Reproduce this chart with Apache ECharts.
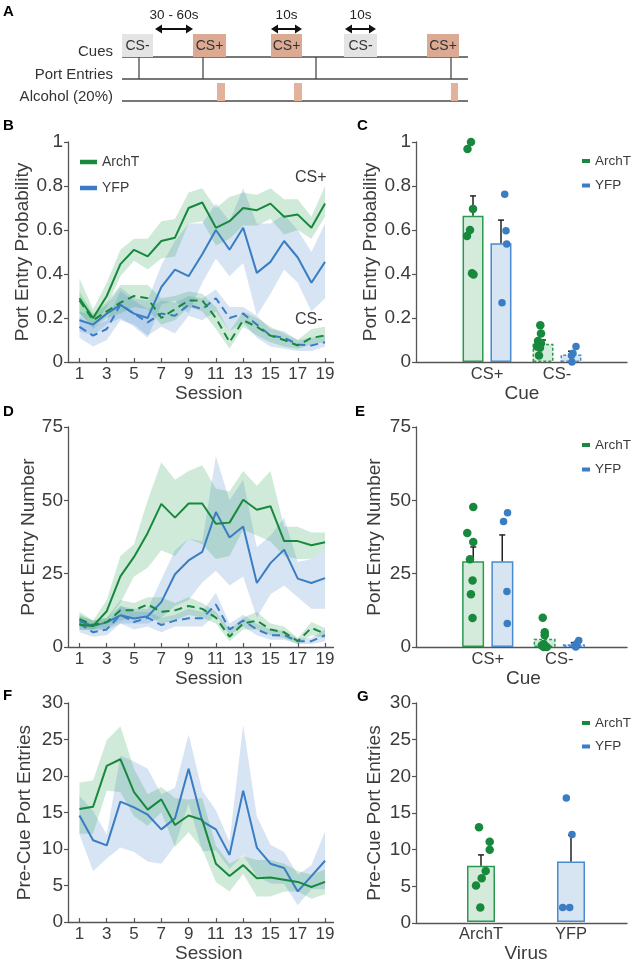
<!DOCTYPE html>
<html><head><meta charset="utf-8">
<script src="https://cdn.jsdelivr.net/npm/echarts@6/dist/echarts.min.js"></script>
<style>html,body{margin:0;padding:0;background:#fff;}#c{width:635px;height:964px;}</style>
</head><body><div id="c"></div>
<script>
// ---------------- DATA ----------------
// Panel A: trial schematic (timeline units)
const cueTypes = ['CS-','CS+','CS+','CS-','CS+'];
const cueOnsets = [0,71,149,222,305];
const cueOffsets = [31,104,180,255,337];
const portEntryTimes = [17,81,194,329];
const alcoholOnsets = [95,172,329];
const alcoholOffsets = [103,180,336];
const intervalLabels = ['30 - 60s','10s','10s'];
const intervalStarts = [33,149,223];
const intervalEnds = [71,180,254];
const timelineEnd = 346;
const rowLabels = ['Cues','Port Entries','Alcohol (20%)'];

// Sessions
const sessions = [1,2,3,4,5,6,7,8,9,10,11,12,13,14,15,16,17,18,19];
const sessionTicks = [1,3,5,7,9,11,13,15,17,19];

// Panel B: port entry probability
const probArchTCSp   = [0.29,0.20,0.30,0.445,0.51,0.48,0.55,0.565,0.70,0.725,0.61,0.64,0.70,0.69,0.72,0.66,0.67,0.61,0.72];
const probArchTCSpHi = [0.38,0.24,0.36,0.51,0.56,0.56,0.64,0.65,0.77,0.79,0.70,0.75,0.77,0.76,0.79,0.74,0.74,0.66,0.80];
const probArchTCSpLo = [0.22,0.16,0.25,0.39,0.46,0.42,0.47,0.48,0.63,0.64,0.53,0.56,0.62,0.62,0.65,0.58,0.60,0.56,0.66];
const probYFPCSp     = [0.19,0.17,0.22,0.26,0.22,0.20,0.34,0.42,0.39,0.49,0.60,0.51,0.61,0.405,0.455,0.55,0.475,0.36,0.455];
const probYFPCSpHi   = [0.23,0.21,0.26,0.34,0.29,0.28,0.44,0.55,0.63,0.63,0.72,0.64,0.79,0.63,0.63,0.67,0.60,0.50,0.63];
const probYFPCSpLo   = [0.14,0.12,0.17,0.20,0.16,0.11,0.26,0.28,0.22,0.36,0.47,0.39,0.45,0.21,0.31,0.42,0.36,0.23,0.29];
const probArchTCSm   = [0.28,0.19,0.23,0.27,0.30,0.29,0.20,0.24,0.28,0.28,0.20,0.09,0.19,0.16,0.12,0.10,0.075,0.11,0.12];
const probArchTCSmHi = [0.32,0.22,0.27,0.35,0.35,0.35,0.29,0.30,0.32,0.31,0.25,0.14,0.23,0.20,0.16,0.13,0.10,0.15,0.16];
const probArchTCSmLo = [0.22,0.15,0.20,0.22,0.25,0.24,0.17,0.19,0.25,0.23,0.15,0.06,0.16,0.12,0.09,0.07,0.06,0.08,0.09];
const probYFPCSm     = [0.16,0.12,0.15,0.26,0.22,0.18,0.22,0.21,0.26,0.24,0.29,0.20,0.22,0.17,0.12,0.11,0.08,0.075,0.09];
const probYFPCSmHi   = [0.21,0.16,0.19,0.32,0.28,0.24,0.28,0.27,0.30,0.29,0.33,0.25,0.25,0.21,0.15,0.14,0.10,0.11,0.12];
const probYFPCSmLo   = [0.11,0.07,0.10,0.19,0.17,0.12,0.16,0.13,0.21,0.19,0.23,0.14,0.18,0.11,0.07,0.06,0.05,0.05,0.07];

// Panel D: port entry number
const numArchTCSp   = [7.6,7.2,12.2,24.1,30.7,38.9,48.8,44.1,48.9,48.9,42.0,42.4,50.2,46.8,48.0,36.1,36.1,34.7,35.7];
const numArchTCSpHi = [10.5,9,16,31,35,50,63,57,60,62,54,53,60,55,60,41,41,39,39];
const numArchTCSpLo = [5.8,6,9,15,24,27,33,31,37,35,30,31,40,38,36,31,30,30,33];
const numYFPCSp     = [8.8,7.2,8.4,10.8,9.7,10.5,15.3,24.8,29.5,32.4,46.0,37.3,41.1,21.8,28.6,33.2,23.3,21.8,23.5];
const numYFPCSpHi   = [11,9,10,14,13,13,23,33,37,36,65,50,57,34,38,44,29,30,33];
const numYFPCSpLo   = [6,5.5,6,8,8,8,10,14,16,22,26,21,24,10,18,21,17,13,13];
const numArchTCSm   = [9.5,7.5,8.5,12.5,12.5,14.5,12,12.5,14,13,10,3.5,8,9,6,5,2,6.5,4.5];
const numArchTCSmHi = [12,9,10,16,15,17,17,15,17,15,12,6,10,12,8,7,3,8.5,6.5];
const numArchTCSmLo = [7,6,6.5,9,10,11,8,9,11,10,8,2,6,6,4,3,1,4,3];
const numYFPCSm     = [8,5,6,11,8.5,10,7.5,9,9.8,9.8,14.5,6,9,6,4,4,2,2,4];
const numYFPCSmHi   = [10,7,8,14,12,12,10,11,13,12,18.5,8,11,8,6,5.5,3,3,6];
const numYFPCSmLo   = [5,3.5,4,8,6,7,5,7,7,7,11,4,7,4,2.5,2.5,1,1,2];

// Panel F: pre-cue port entries
const preArchT   = [15.5,15.8,21.4,22.3,17.8,15.4,16.8,13.3,14.6,14.0,8.0,6.3,7.8,6.0,6.1,5.8,5.5,4.8,5.5];
const preArchTHi = [19.1,19.4,24.9,26.8,21.0,17.5,18.5,17.0,16.8,17.0,10.5,8.0,9.0,8.5,8.5,8.0,7.0,6.5,7.2];
const preArchTLo = [12.1,12.1,18.0,17.8,14.5,13.2,15.0,10.3,12.3,10.0,5.5,4.2,6.6,3.5,3.5,4.2,4.2,3.2,3.8];
const preYFP     = [14.6,11.2,10.5,16.5,15.7,14.7,12.7,14.2,21.0,13.8,12.7,9.2,18.0,10.2,8.0,7.4,4.2,6.3,8.4];
const preYFPHi   = [17.3,15.2,12.0,22.8,22.0,21.0,17.5,18.4,25.7,18.0,15.3,11.0,27.0,14.5,10.6,9.6,6.5,7.8,12.4];
const preYFPLo   = [12.0,7.0,8.7,10.2,9.6,8.3,8.0,10.5,16.2,9.7,9.8,7.3,9.2,6.3,5.3,5.2,2.3,4.5,4.5];

// Panel C: probability by cue
const cueCats = ['CS+','CS-'];
const probMeanArchT = [0.665,0.083];
const probTopArchT  = [0.755,0.10];
const probMeanYFP   = [0.54,0.034];
const probTopYFP    = [0.645,0.049];
const probDotsArchTCSp = [1.0,0.968,0.696,0.60,0.573,0.403,0.398];
const probDotsArchTCSm = [0.167,0.13,0.095,0.085,0.07,0.065,0.03];
const probDotsYFPCSp   = [0.763,0.597,0.536,0.269];
const probDotsYFPCSm   = [0.07,0.04,0.03,0.0];

// Panel E: number by cue
const numMeanArchT = [29.2,2.8];
const numTopArchT  = [34.1,3.6];
const numMeanYFP   = [29.2,0.9];
const numTopYFP    = [38.2,1.5];
const numDotsArchTCSp = [47.7,38.9,35.8,29.9,22.7,18.0,9.9];
const numDotsArchTCSm = [10,5,4,1,0.5,0,0];
const numDotsYFPCSp   = [42.8,45.8,18.9,8.0];
const numDotsYFPCSm   = [2.2,1.2,0.5,0];

// Panel G: pre-cue by virus
const viruses = ['ArchT','YFP'];
const preMean = [7.7,8.3];
const preTop  = [9.2,11.9];
const preDotsArchT = [13,11,9.9,7,6,5,2];
const preDotsYFP   = [17,12,2,2];

// dot jitter (horizontal pixel offsets, layout only)
const jitC_A_p = [-2,-5.5,0,-3,-6,-1,0.5], jitC_A_m = [-2.7,-2,-5,-2,-6,-3,-4];
const jitC_Y_p = [3.7,5,5.7,1], jitC_Y_m = [5,2,0.5,1];
const jitE_A_p = [0,-6,0,-3.3,-0.7,-2.3,-0.7], jitE_A_m = [-2,0,0,-1,-3,-1,2];
const jitE_Y_p = [1.3,5.3,4.7,5], jitE_Y_m = [5,3,1,2];
const jitG_A = [-2,8.7,8.7,4.7,0.7,-5,-0.7], jitG_Y = [-4.7,1,-8.3,-1.3];

// ---------------- STYLE ----------------
const FONT = '"Liberation Sans", Arial, Helvetica, sans-serif';
const TXT = '#3c3c3c';
const AX = '#555555';
const GREEN = '#17883c', BLUE = '#3a7dc2';
const GREEN_BAND = 'rgba(40,160,80,0.22)', BLUE_BAND = 'rgba(70,130,200,0.22)';
const GREEN_FILL = '#d4ebdc', BLUE_FILL = '#d7e5f3';
const GREEN_EDGE = '#2a9a50', BLUE_EDGE = '#4a8ad0';
const ROW_Y = [57,79,101], BOX_TOP = 34, ALC_TOP = 83, ARROW_Y = 29, ARROW_TXT_Y = 15;

const chart = echarts.init(document.getElementById('c'), null, {renderer:'canvas'});

const grids = [
  {left:122, top:0, width:346, height:110},
  {left:68, top:142, width:265.5, height:220},
  {left:416, top:142, width:211, height:220},
  {left:452, top:142, width:140, height:220},
  {left:68, top:427, width:265.5, height:220},
  {left:416, top:427, width:211, height:220},
  {left:452, top:427, width:143, height:220},
  {left:68, top:703, width:265.5, height:220},
  {left:416, top:703, width:211, height:220},
  {left:436, top:703, width:180, height:220}
];

function nameStyle(extra){ return Object.assign({fontSize:19, color:TXT, fontFamily:FONT}, extra||{}); }
function sessionX(g){ return {gridIndex:g, type:'value', min:0.16, max:19.62, name:'Session', nameLocation:'middle', nameGap:20,
  nameTextStyle:nameStyle({padding:[0,0,0,16]}), axisLine:{onZero:false, lineStyle:{color:AX,width:1.3}},
  axisTick:{show:true, inside:true, length:4, customValues:sessionTicks, lineStyle:{color:AX,width:1.2}},
  axisLabel:{customValues:sessionTicks, fontSize:17, color:TXT, margin:4, fontFamily:FONT}, splitLine:{show:false}}; }
function valY(g, max, interval, name, gap){ return {gridIndex:g, type:'value', min:0, max:max, interval:interval, name:name, nameLocation:'middle', nameGap:gap,
  nameTextStyle:nameStyle(), axisLine:{show:true, onZero:false, lineStyle:{color:AX,width:1.3}},
  axisTick:{show:true, length:4, lineStyle:{color:AX,width:1.2}}, axisLabel:{fontSize:19, color:TXT, margin:5, fontFamily:FONT}, splitLine:{show:false}}; }
function hiddenY(g, max){ return {gridIndex:g, type:'value', min:0, max:max, show:false}; }
function frameX(g){ return {gridIndex:g, type:'value', min:0, max:1, axisLine:{onZero:false, lineStyle:{color:AX,width:1.3}}, axisTick:{show:false}, axisLabel:{show:false}, splitLine:{show:false}}; }
function catX(g, cats, name){ return {gridIndex:g, type:'category', data:cats, name:name, nameLocation:'middle', nameGap:20, nameTextStyle:nameStyle(),
  axisLine:{show:false}, axisTick:{show:false}, axisLabel:{fontSize:16.5, color:TXT, margin:4, fontFamily:FONT}, splitLine:{show:false}}; }

const xAxes = [
  {gridIndex:0, type:'value', min:0, max:timelineEnd, show:false},
  sessionX(1), frameX(2), catX(3, cueCats, 'Cue'),
  sessionX(4), frameX(5), catX(6, cueCats, 'Cue'),
  sessionX(7), frameX(8), catX(9, viruses, 'Virus')
];
const yAxes = [
  {gridIndex:0, type:'value', min:0, max:110, inverse:true, show:false},
  valY(1, 1, 0.2, 'Port Entry Probability', 34), valY(2, 1, 0.2, 'Port Entry Probability', 32), hiddenY(3, 1),
  valY(4, 75, 25, 'Port Entry Number', 22), valY(5, 75, 25, 'Port Entry Number', 32), hiddenY(6, 75),
  valY(7, 30, 5, 'Pre-Cue Port Entries', 34), valY(8, 30, 5, 'Pre-Cue Port Entries', 32), hiddenY(9, 30)
];

const series = [];

// ---- Panel A ----
series.push({type:'custom', name:'rows', xAxisIndex:0, yAxisIndex:0, silent:true, data:[[0, timelineEnd]],
  renderItem:function(p, api){
    const x0 = api.coord([api.value(0), 0])[0], x1 = api.coord([api.value(1), 0])[0];
    return {type:'group', children: ROW_Y.map(function(y){ const py = api.coord([0,y])[1];
      return {type:'line', shape:{x1:x0, y1:py, x2:x1, y2:py}, style:{stroke:'#4a4a4a', lineWidth:1.3}}; })};
  }});
series.push({type:'custom', name:'cues', xAxisIndex:0, yAxisIndex:0, silent:true, z:3,
  data: cueOnsets.map(function(t,i){ return [t, cueOffsets[i]]; }),
  renderItem:function(p, api){
    const a = api.coord([api.value(0), BOX_TOP]), b = api.coord([api.value(1), ROW_Y[0]]);
    const type = cueTypes[p.dataIndex];
    return {type:'group', children:[
      {type:'rect', shape:{x:a[0], y:a[1], width:b[0]-a[0], height:b[1]-a[1]}, style:{fill: type==='CS+' ? '#dcaa93' : '#e4e4e4'}},
      {type:'text', style:{text:type, x:(a[0]+b[0])/2, y:(a[1]+b[1])/2+1, align:'center', verticalAlign:'middle', fontSize:14, fontFamily:FONT, fill:'#333'}}
    ]};
  }});
series.push({type:'custom', name:'ports', xAxisIndex:0, yAxisIndex:0, silent:true,
  data: portEntryTimes.map(function(t){ return [t]; }),
  renderItem:function(p, api){
    const a = api.coord([api.value(0), ROW_Y[0]]), b = api.coord([api.value(0), ROW_Y[1]]);
    return {type:'line', shape:{x1:a[0], y1:a[1], x2:b[0], y2:b[1]}, style:{stroke:'#4a4a4a', lineWidth:1.3}};
  }});
series.push({type:'custom', name:'alcohol', xAxisIndex:0, yAxisIndex:0, silent:true,
  data: alcoholOnsets.map(function(t,i){ return [t, alcoholOffsets[i]]; }),
  renderItem:function(p, api){
    const a = api.coord([api.value(0), ALC_TOP]), b = api.coord([api.value(1), ROW_Y[2]]);
    return {type:'rect', shape:{x:a[0], y:a[1], width:b[0]-a[0], height:b[1]-a[1]}, style:{fill:'#e2b29c'}};
  }});
series.push({type:'custom', name:'intervals', xAxisIndex:0, yAxisIndex:0, silent:true,
  data: intervalStarts.map(function(t,i){ return [t, intervalEnds[i]]; }),
  renderItem:function(p, api){
    const a = api.coord([api.value(0), ARROW_Y]), b = api.coord([api.value(1), ARROW_Y]);
    const t = api.coord([0, ARROW_TXT_Y]);
    const L = 7, H = 4.5, y = a[1];
    return {type:'group', children:[
      {type:'line', shape:{x1:a[0]+3, y1:y, x2:b[0]-3, y2:y}, style:{stroke:'#111', lineWidth:2}},
      {type:'polygon', shape:{points:[[a[0],y],[a[0]+L,y-H],[a[0]+L,y+H]]}, style:{fill:'#111'}},
      {type:'polygon', shape:{points:[[b[0],y],[b[0]-L,y-H],[b[0]-L,y+H]]}, style:{fill:'#111'}},
      {type:'text', style:{text:intervalLabels[p.dataIndex], x:(a[0]+b[0])/2, y:t[1], align:'center', verticalAlign:'middle', fontSize:13.5, fontFamily:FONT, fill:'#222'}}
    ]};
  }});

// ---- line panels ----
function band(g, lo, hi, fill){
  return {type:'custom', name:'sem', xAxisIndex:g, yAxisIndex:g, silent:true, z:1, data:[[sessions[0], lo[0]]],
    renderItem:function(p, api){
      const pts = [];
      for (let i=0;i<sessions.length;i++) pts.push(api.coord([sessions[i], hi[i]]));
      for (let i=sessions.length-1;i>=0;i--) pts.push(api.coord([sessions[i], lo[i]]));
      return {type:'polygon', shape:{points:pts}, style:{fill:fill}};
    }};
}
function line(g, name, vals, color, dashed){
  return {type:'line', name:name, xAxisIndex:g, yAxisIndex:g, symbol:'none', z:3, silent:true,
    data: sessions.map(function(s,i){ return [s, vals[i]]; }),
    lineStyle:{color:color, width:2, type: dashed ? [8,5] : 'solid'}, itemStyle:{color:color}};
}
// B
series.push(band(1, probYFPCSpLo, probYFPCSpHi, BLUE_BAND), band(1, probYFPCSmLo, probYFPCSmHi, BLUE_BAND),
  band(1, probArchTCSpLo, probArchTCSpHi, GREEN_BAND), band(1, probArchTCSmLo, probArchTCSmHi, GREEN_BAND));
series.push(line(1,'YFP',probYFPCSp,BLUE,false), line(1,'YFP',probYFPCSm,BLUE,true),
  line(1,'ArchT',probArchTCSp,GREEN,false), line(1,'ArchT',probArchTCSm,GREEN,true));
// D
series.push(band(4, numYFPCSpLo, numYFPCSpHi, BLUE_BAND), band(4, numYFPCSmLo, numYFPCSmHi, BLUE_BAND),
  band(4, numArchTCSpLo, numArchTCSpHi, GREEN_BAND), band(4, numArchTCSmLo, numArchTCSmHi, GREEN_BAND));
series.push(line(4,'YFP',numYFPCSp,BLUE,false), line(4,'YFP',numYFPCSm,BLUE,true),
  line(4,'ArchT',numArchTCSp,GREEN,false), line(4,'ArchT',numArchTCSm,GREEN,true));
// F
series.push(band(7, preYFPLo, preYFPHi, BLUE_BAND), band(7, preArchTLo, preArchTHi, GREEN_BAND));
series.push(line(7,'YFP',preYFP,BLUE,false), line(7,'ArchT',preArchT,GREEN,false));

// ---- bar panels ----
function errBars(g, means, tops, offset){
  return {type:'custom', name:'err', xAxisIndex:g, yAxisIndex:g, silent:true, z:4,
    data: means.map(function(m,i){ return [i, m, tops[i]]; }),
    renderItem:function(p, api){
      const c = api.coord([api.value(0), api.value(1)]), u = api.coord([api.value(0), api.value(2)]);
      const x = c[0] + offset;
      return {type:'group', children:[
        {type:'line', shape:{x1:x, y1:c[1], x2:x, y2:u[1]}, style:{stroke:'#222', lineWidth:1.5}},
        {type:'line', shape:{x1:x-3, y1:u[1], x2:x+3, y2:u[1]}, style:{stroke:'#222', lineWidth:1.5}}
      ]};
    }};
}
function dots(g, name, groups, jits, offset, color, size){
  const data = [];
  groups.forEach(function(vals, ci){ vals.forEach(function(v,k){ data.push({value:[ci, v], symbolOffset:[offset + jits[ci][k], 0]}); }); });
  return {type:'scatter', name:name, xAxisIndex:g, yAxisIndex:g, silent:true, z:5, symbolSize:size, itemStyle:{color:color, opacity:1}, data:data};
}
function barSeries(g, name, means, fill, edge, w){
  return {type:'bar', name:name, xAxisIndex:g, yAxisIndex:g, silent:true, z:2, barWidth:w, barGap:'33%',
    itemStyle:{color:fill, borderColor:edge, borderWidth:1.5},
    data: means.map(function(v,i){ return {value:v, itemStyle:{borderType: i===0 ? 'solid' : [3,2]}}; })};
}
// C
series.push(barSeries(3,'ArchT',probMeanArchT,GREEN_FILL,GREEN_EDGE,21), barSeries(3,'YFP',probMeanYFP,BLUE_FILL,BLUE_EDGE,21));
series.push(errBars(3, probMeanArchT, probTopArchT, -14), errBars(3, probMeanYFP, probTopYFP, 14));
series.push(dots(3,'ArchT',[probDotsArchTCSp, probDotsArchTCSm],[jitC_A_p, jitC_A_m],-14,GREEN,8.5),
  dots(3,'YFP',[probDotsYFPCSp, probDotsYFPCSm],[jitC_Y_p, jitC_Y_m],14,BLUE,7.5));
// E
series.push(barSeries(6,'ArchT',numMeanArchT,GREEN_FILL,GREEN_EDGE,22), barSeries(6,'YFP',numMeanYFP,BLUE_FILL,BLUE_EDGE,22));
series.push(errBars(6, numMeanArchT, numTopArchT, -14.5), errBars(6, numMeanYFP, numTopYFP, 14.5));
series.push(dots(6,'ArchT',[numDotsArchTCSp, numDotsArchTCSm],[jitE_A_p, jitE_A_m],-14.5,GREEN,8.5),
  dots(6,'YFP',[numDotsYFPCSp, numDotsYFPCSm],[jitE_Y_p, jitE_Y_m],14.5,BLUE,7.5));
// G
series.push({type:'bar', name:'Virus', xAxisIndex:9, yAxisIndex:9, silent:true, z:2, barWidth:28,
  data: preMean.map(function(v,i){ return {value:v, itemStyle:{color: i===0?GREEN_FILL:BLUE_FILL, borderColor: i===0?GREEN_EDGE:BLUE_EDGE, borderWidth:1.5}}; })});
series.push(errBars(9, preMean, preTop, 0));
series.push(dots(9,'ArchT',[preDotsArchT, []],[jitG_A, []],0,GREEN,8.5), dots(9,'YFP',[[], preDotsYFP],[[], jitG_Y],0,BLUE,7.5));

function legend(left, top, w, h, gap, fs){
  return {left:left, top:top, orient:'vertical', itemGap:gap, itemWidth:w, itemHeight:h, icon:'rect', padding:0, selectedMode:false,
    textStyle:{fontSize:fs, color:TXT, fontFamily:FONT},
    data:[{name:'ArchT', icon:'rect', itemStyle:{color:GREEN}}, {name:'YFP', icon:'rect', itemStyle:{color:BLUE}}]};
}

function label(text, x, y, opts){
  return {type:'text', x:x, y:y, silent:true, style:Object.assign({text:text, fill:'#000', font:'bold 15px ' + FONT, align:'left', verticalAlign:'middle', textAlign:'left', textVerticalAlign:'middle'}, opts||{})};
}
const graphics = [
  label('A',3,12), label('B',3,126), label('C',357,126), label('D',3,412), label('E',355,412), label('F',3,696), label('G',357,697),
  label(rowLabels[0],113,52,{font:'15px '+FONT, fill:'#333', align:'right', textAlign:'right'}),
  label(rowLabels[1],113,75,{font:'15px '+FONT, fill:'#333', align:'right', textAlign:'right'}),
  label(rowLabels[2],113,97,{font:'15px '+FONT, fill:'#333', align:'right', textAlign:'right'}),
  label('CS+',295,178,{font:'16px '+FONT, fill:TXT}),
  label('CS-',295,320,{font:'16px '+FONT, fill:TXT})
];

chart.setOption({
  animation:false,
  textStyle:{fontFamily:FONT},
  grid:grids, xAxis:xAxes, yAxis:yAxes, series:series,
  legend:[legend(80,155,17,4.5,12,14), legend(582,154,8,4,10.5,13.5), legend(582,438,8,4,10.5,13.5), legend(582,716,8,4,9.5,13.5)],
  graphic:{elements:graphics}
});
</script></body></html>
